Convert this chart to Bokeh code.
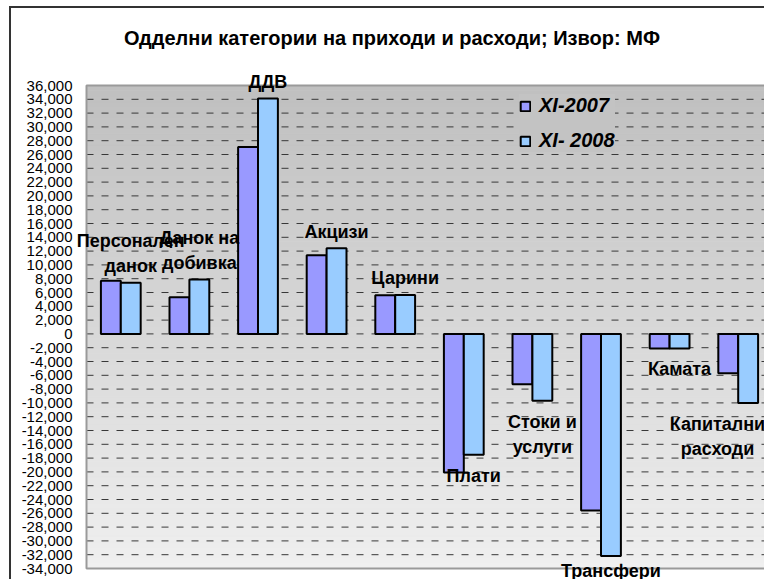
import numpy as np
from bokeh.plotting import figure
from bokeh.models import (FixedTicker, NumeralTickFormatter, Legend, LegendItem,
                          LabelSet, Label, ColumnDataSource, Range1d)
from bokeh.core.properties import value
from bokeh.embed import file_html
from bokeh.resources import INLINE

# ---------------- data ----------------
categories = ["Персонален\nданок", "Данок на\nдобивка", "ДДВ", "Акцизи", "Царини",
              "Плати", "Стоки и\nуслуги", "Трансфери", "Камата", "Капитални\nрасходи"]
xi_2007 = [7700, 5300, 27100, 11400, 5600, -20100, -7300, -25600, -2100, -5700]
xi_2008 = [7400, 7900, 34100, 12400, 5650, -17500, -9700, -32200, -2100, -10000]
series_names = ["XI-2007", "XI- 2008"]
y_ticks = list(range(-34000, 36001, 2000))
title_text = "Одделни категории на приходи и расходи; Извор: МФ"

# ---------------- layout (page pixels) ----------------
CX, CY = 11, 8                 # canvas origin on the page (after css margin+border)
W, H = 766 - CX, 581 - CY
FR_L, FR_R, FR_T, FR_B = 74, 766, 8, 581      # frame on page
PA_L, PA_T, PA_B = 86, 85, 568                 # gray plot area on page
Y0, Y1 = -34000, 36000
DX = 68.6                                      # px per category
ppu = (PA_B - PA_T) / (Y1 - Y0)                # px per unit
X0, X1 = -0.5, len(categories) - 0.5           # plot area in data units
BAR_W = 0.29


def px_x(px):
    return X0 + (px - PA_L) / DX


def px_y(py):
    return Y1 - (py - PA_T) / ppu


p = figure(width=W, height=H,
           x_range=Range1d(px_x(FR_L), px_x(FR_R)),
           y_range=Range1d(px_y(FR_B), px_y(FR_T)),
           output_backend="svg", toolbar_location=None,
           min_border_left=FR_L - CX, min_border_right=0, min_border_top=0,
           min_border_bottom=0, border_fill_color="white",
           background_fill_color="white", outline_line_color=None)
p.styles = {"margin-left": "9px", "margin-top": "6px",
            "border-left": "2px solid #333333", "border-top": "2px solid #333333"}

# gradient background of plot area
nb = 90
edges = np.linspace(Y0, Y1, nb + 1)
shade = np.linspace(240, 192, nb)
cols = ["#%02x%02x%02x" % (int(s), int(s), int(s)) for s in shade]
p.quad(left=X0, right=X1, bottom=edges[:-1], top=edges[1:], fill_color=cols,
       line_color=cols, line_width=1, level="image")

# dashed horizontal gridlines
p.segment(x0=X0, x1=X1, y0=y_ticks, y1=y_ticks, line_color="#383838",
          line_dash="7 8", line_width=1, level="underlay")
# plot-area border
p.quad(left=X0, right=X1, bottom=Y0, top=Y1, fill_color=None,
       line_color="#9A9A9A", line_width=2, level="underlay")

idx = np.arange(len(categories))
src = ColumnDataSource(dict(x1=idx - BAR_W / 2, x2=idx + BAR_W / 2,
                            v1=xi_2007, v2=xi_2008))
r1 = p.vbar(x="x1", width=BAR_W, top="v1", bottom=0, source=src,
            fill_color="#9999FF", line_color="black", line_width=2)
r2 = p.vbar(x="x2", width=BAR_W, top="v2", bottom=0, source=src,
            fill_color="#99CCFF", line_color="black", line_width=2)

# axes
p.xaxis.visible = False
p.xgrid.visible = False
p.ygrid.visible = False
p.yaxis.ticker = FixedTicker(ticks=y_ticks)
p.yaxis.formatter = NumeralTickFormatter(format="0,0")
p.yaxis.axis_line_color = None
p.yaxis.major_tick_line_color = None
p.yaxis.minor_tick_line_color = None
p.yaxis.major_tick_out = 0
p.yaxis.major_tick_in = 0
p.yaxis.major_label_standoff = 2
p.yaxis.major_label_text_font = "Liberation Sans"
p.yaxis.major_label_text_font_size = "15px"
p.yaxis.major_label_text_color = "black"

# category labels (at the end of the XI-2008 bars), one row per text line
LINE_PX = 25
lx, ly, lt = [], [], []
for i, (c, v) in enumerate(zip(categories, xi_2008)):
    lines = c.split("\n")
    n = len(lines)
    xc = min(i + BAR_W / 2, px_x(717))
    for k, t in enumerate(lines):
        if v >= 0:
            yc = v + (16.5 + (n - 1 - k) * LINE_PX) / ppu
        else:
            yc = v - (21 + k * LINE_PX) / ppu
            yc = max(yc, Y0 - 2 / ppu)
        lx.append(xc)
        ly.append(yc)
        lt.append(t)
lsrc = ColumnDataSource(dict(x=lx, y=ly, text=lt))
labels = LabelSet(x="x", y="y", text="text", source=lsrc, text_align="center",
                  text_baseline="middle", text_font=value("Liberation Sans"),
                  text_font_style="bold", text_font_size="18px", text_color="black")
p.add_layout(labels)

# title
title = Label(x=px_x(391.5), y=px_y(37), text=title_text,
              text_align="center", text_baseline="middle", text_font="Liberation Sans",
              text_font_size="20px", text_font_style="bold", text_color="black")
p.add_layout(title)

# legend
legend = Legend(items=[LegendItem(label=series_names[0], renderers=[r1]),
                       LegendItem(label=series_names[1], renderers=[r2])],
                location=(519 - FR_L, FR_B - 152), orientation="vertical",
                padding=9, spacing=12, label_height=20, glyph_width=12,
                glyph_height=12, label_standoff=8, margin=0,
                background_fill_color="#C3C3C3", background_fill_alpha=1,
                border_line_color=None, label_text_font="Liberation Sans",
                label_text_font_style="bold italic", label_text_font_size="20px",
                label_text_color="black")
p.add_layout(legend)

open("out.html", "w").write(file_html(p, INLINE))
